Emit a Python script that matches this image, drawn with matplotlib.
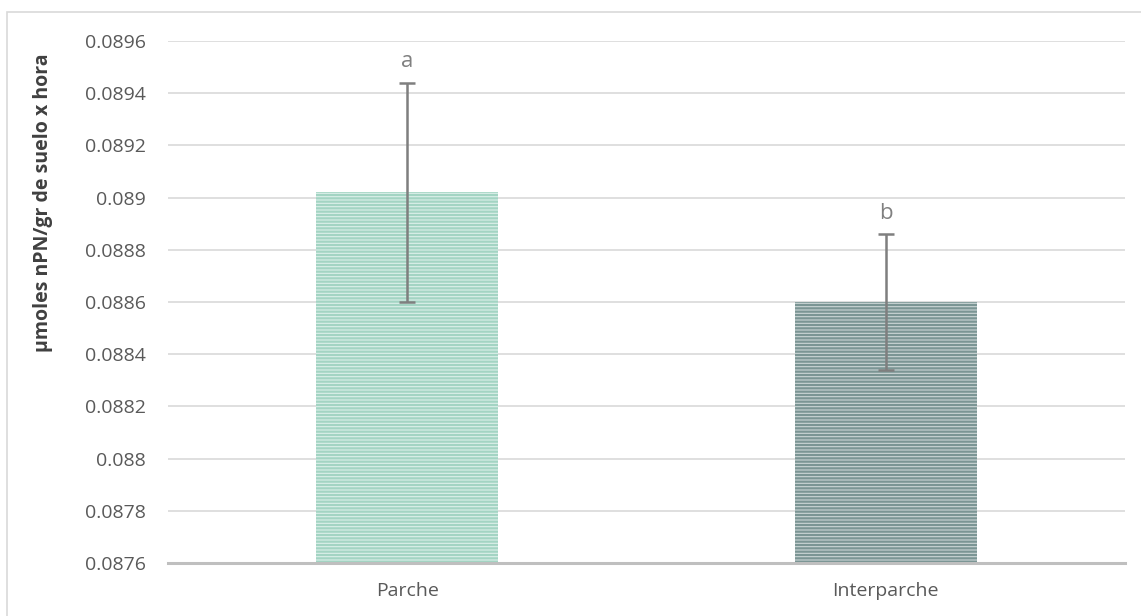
import matplotlib
matplotlib.use("Agg")
import matplotlib.pyplot as plt
from matplotlib.patches import Rectangle

categories = ["Parche", "Interparche"]
values = [0.08902, 0.08860]
errors = [0.00042, 0.00026]
letters = ["a", "b"]
yticks = [0.0876, 0.0878, 0.088, 0.0882, 0.0884, 0.0886, 0.0888, 0.089, 0.0892, 0.0894, 0.0896]
ytick_labels = ["0.0876", "0.0878", "0.088", "0.0882", "0.0884", "0.0886", "0.0888", "0.089", "0.0892", "0.0894", "0.0896"]

face_colors = ["#DCF0EA", "#CBD6D6"]
stripe_colors = ["#A3D4C3", "#7B9594"]

plt.rcParams["font.family"] = ["Open Sans", "DejaVu Sans"]
plt.rcParams["hatch.linewidth"] = 1.6

W, H = 1141, 616
fig = plt.figure(figsize=(W / 100, H / 100), dpi=100)

# outer chart border
fig.patches.append(Rectangle((7 / W, -0.1), 1.2, 1 - 12 / H + 0.1, transform=fig.transFigure,
                             fill=False, edgecolor="#D9D9D9", linewidth=1.2))

left, right, top, bottom = 168, 1125, 41, 563
ax = fig.add_axes([left / W, 1 - bottom / H, (right - left) / W, (bottom - top) / H])

x = range(len(categories))
bars = ax.bar(x, values, width=0.38, color=face_colors, edgecolor="none", zorder=2)
for b, sc in zip(bars, stripe_colors):
    b.set_hatch("-----")
    b._hatch_color = matplotlib.colors.to_rgba(sc)

ax.errorbar(x, values, yerr=errors, fmt="none", ecolor="#7F7F7F", elinewidth=1.8,
            capsize=6, capthick=1.8, zorder=3)

for xi, v, e, t in zip(x, values, errors, letters):
    ax.text(xi, v + e + 0.00004, t, ha="center", va="bottom", fontsize=16, color="#808080")

ax.set_ylim(yticks[0], yticks[-1])
ax.set_xlim(-0.5, 1.5)
ax.set_yticks(yticks)
ax.set_yticklabels(ytick_labels)
ax.set_xticks(list(x))
ax.set_xticklabels(categories)
ax.tick_params(axis="both", length=0, labelsize=14, labelcolor="#595959")
ax.tick_params(axis="y", pad=16)
ax.tick_params(axis="x", pad=14)
ax.grid(axis="y", color="#D9D9D9", linewidth=1.2, zorder=0)
ax.set_axisbelow(True)
for s in ["top", "right", "left"]:
    ax.spines[s].set_visible(False)
ax.spines["bottom"].set_color("#BFBFBF")
ax.spines["bottom"].set_linewidth(2.2)
ax.spines["bottom"].set_zorder(4)

ax.set_ylabel("µmoles nPN/gr de suelo x hora", fontsize=14, fontweight="bold", color="#404040")
ax.yaxis.set_label_coords(-(168 - 53) / (right - left), (bottom - 203) / (bottom - top))

fig.savefig("out.png", dpi=100)
